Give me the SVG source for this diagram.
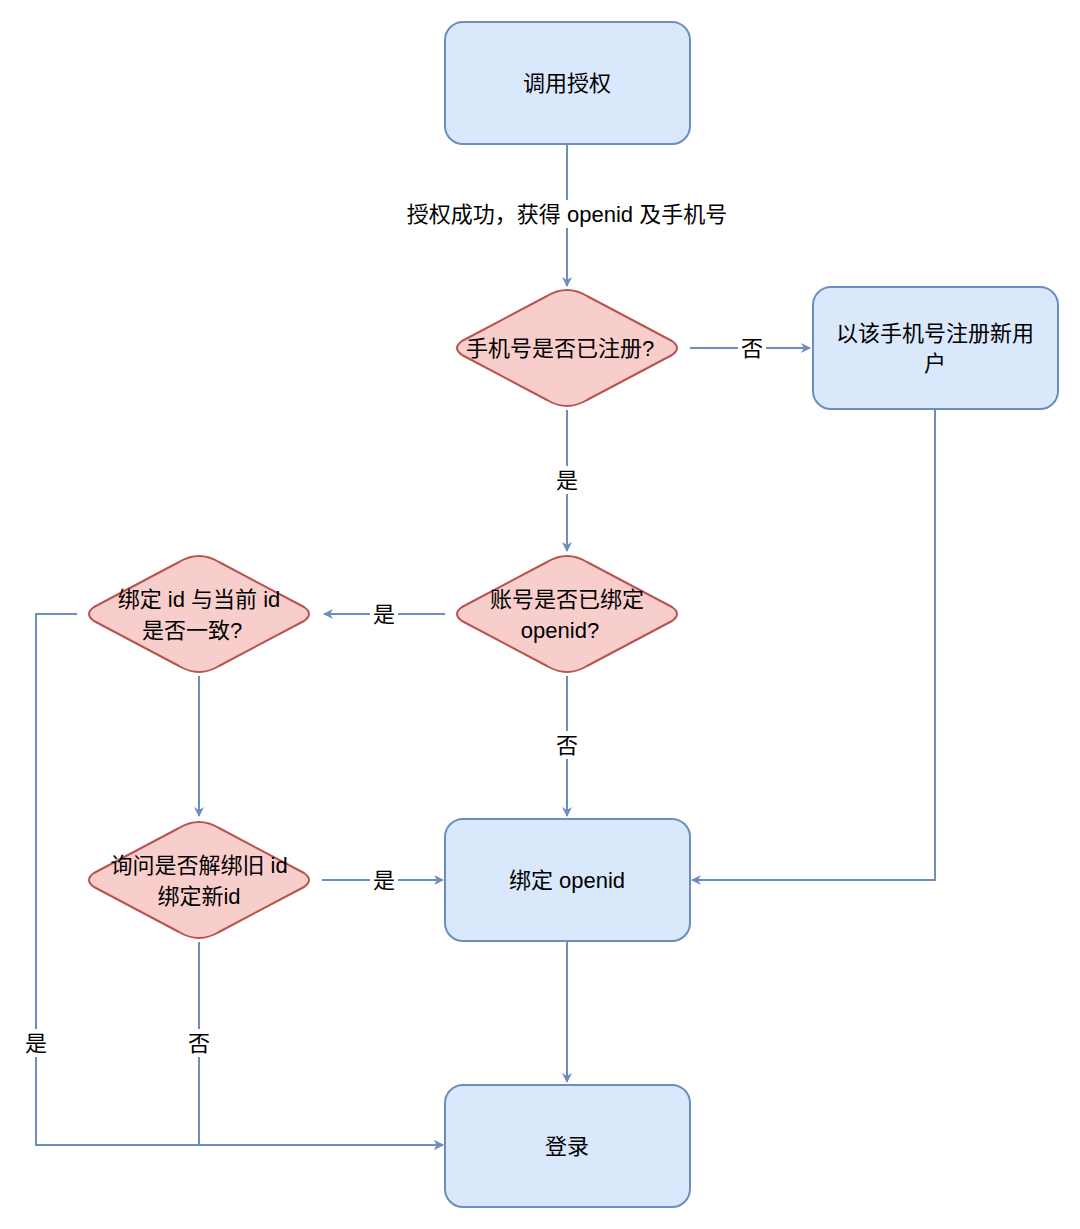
<svg xmlns="http://www.w3.org/2000/svg" width="1080" height="1229" viewBox="0 0 1080 1229">
<style>
.b{fill:#dae8fc;stroke:#6c8ebf;stroke-width:2}
.d{fill:#f8cecc;stroke:#b85450;stroke-width:2;stroke-linejoin:round}
.e{fill:none;stroke:#6c8ebf;stroke-width:2}
text{font-family:"Liberation Sans","Noto Sans CJK SC",sans-serif;font-size:22px;fill:#000;text-anchor:middle;dominant-baseline:central}
.l{fill:#fff;stroke:none}
</style>
<defs><marker id="a" markerWidth="10" markerHeight="10" refX="9" refY="5" orient="auto" markerUnits="userSpaceOnUse"><path d="M0,0L10,5L0,10L3,5Z" fill="#6c8ebf"/></marker></defs>
<rect width="1080" height="1229" fill="#fff"/>
<g id="connectors">
<path class="e" d="M567,144V286" marker-end="url(#a)"/>
<path class="e" d="M690,348H810" marker-end="url(#a)"/>
<path class="e" d="M567,410V551" marker-end="url(#a)"/>
<path class="e" d="M445,614H324" marker-end="url(#a)"/>
<path class="e" d="M567,676V816" marker-end="url(#a)"/>
<path class="e" d="M935,409V880H692" marker-end="url(#a)"/>
<path class="e" d="M199,676V816" marker-end="url(#a)"/>
<path class="e" d="M322,880H443" marker-end="url(#a)"/>
<path class="e" d="M567,941V1082" marker-end="url(#a)"/>
<path class="e" d="M199,942V1145H443" marker-end="url(#a)"/>
<path class="e" d="M77,614H36V1145H443" marker-end="url(#a)"/>
<rect class="l" x="388" y="200" width="358" height="28"/><text x="567" y="214">授权成功，获得 openid 及手机号</text>
<rect class="l" x="738" y="334" width="28" height="28"/><text x="752" y="348">否</text>
<rect class="l" x="553" y="466" width="28" height="28"/><text x="567" y="480">是</text>
<rect class="l" x="370" y="600" width="28" height="28"/><text x="384" y="614">是</text>
<rect class="l" x="553" y="731" width="28" height="28"/><text x="567" y="745">否</text>
<rect class="l" x="370" y="866" width="28" height="28"/><text x="384" y="880">是</text>
<rect class="l" x="185" y="1029" width="28" height="28"/><text x="199" y="1043">否</text>
<rect class="l" x="22" y="1029" width="28" height="28"/><text x="36" y="1043">是</text>
</g>
<g id="n1"><rect class="b" x="445" y="22" width="245" height="122" rx="18"/><text x="567" y="83">调用授权</text></g>
<g id="n2"><path class="d" d="M567,290Q577,290 587,296L672,341Q682,348 672,355L587,400Q577,406 567,406Q557,406 547,400L462,355Q452,348 462,341L547,296Q557,290 567,290Z"/><text x="560" y="348">手机号是否已注册?</text></g>
<g id="n3"><rect class="b" x="813" y="287" width="245" height="122" rx="18"/><text x="935" y="333">以该手机号注册新用</text><text x="935" y="363">户</text></g>
<g id="n4"><path class="d" d="M567,556Q577,556 587,562L672,607Q682,614 672,621L587,666Q577,672 567,672Q557,672 547,666L462,621Q452,614 462,607L547,562Q557,556 567,556Z"/><text x="567" y="599">账号是否已绑定</text><text x="560" y="630">openid?</text></g>
<g id="n5"><path class="d" d="M199,556Q209,556 219,562L304,607Q314,614 304,621L219,666Q209,672 199,672Q189,672 179,666L94,621Q84,614 94,607L179,562Q189,556 199,556Z"/><text x="199" y="599">绑定 id 与当前 id</text><text x="192" y="630">是否一致?</text></g>
<g id="n6"><rect class="b" x="445" y="819" width="245" height="122" rx="18"/><text x="567" y="880">绑定 openid</text></g>
<g id="n7"><path class="d" d="M199,822Q209,822 219,828L304,873Q314,880 304,887L219,932Q209,938 199,938Q189,938 179,932L94,887Q84,880 94,873L179,828Q189,822 199,822Z"/><text x="199" y="865">询问是否解绑旧 id</text><text x="199" y="896">绑定新id</text></g>
<g id="n8"><rect class="b" x="445" y="1085" width="245" height="122" rx="18"/><text x="567" y="1146">登录</text></g>
</svg>
